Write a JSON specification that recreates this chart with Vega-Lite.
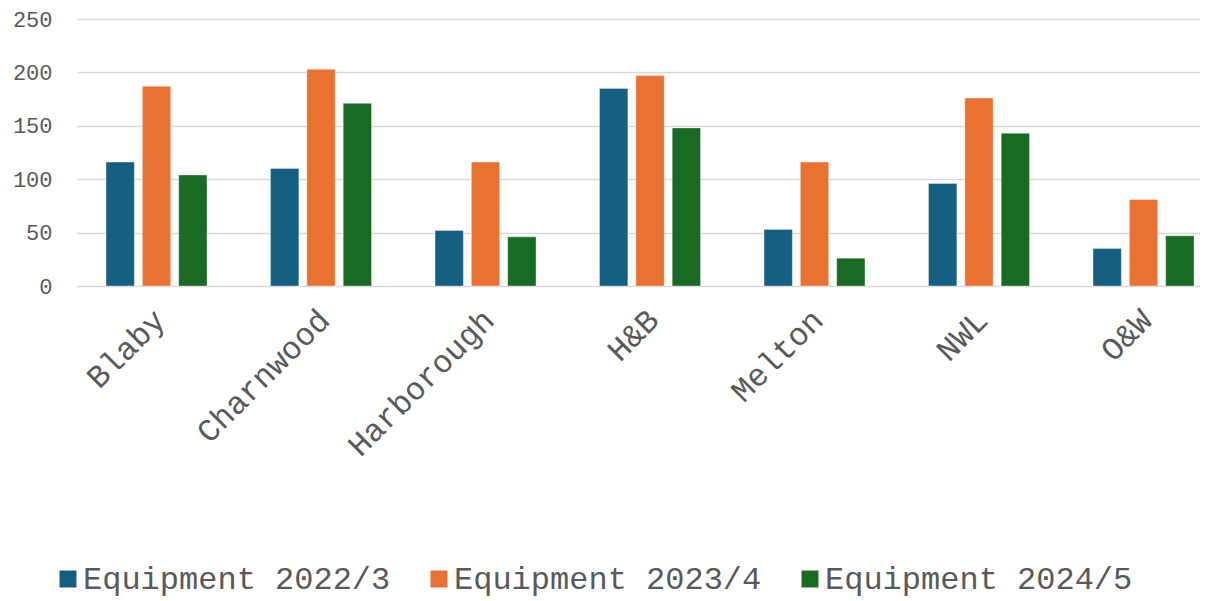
{
  "$schema": "https://vega.github.io/schema/vega-lite/v6.json",
  "autosize": {"type": "none"},
  "padding": {"left": 77, "top": 19, "right": 9, "bottom": 315},
  "width": 1123,
  "height": 267,
  "background": "white",
  "data": {
    "values": [
      {"area": "Blaby", "series": "Equipment 2022/3", "value": 116},
      {"area": "Blaby", "series": "Equipment 2023/4", "value": 187},
      {"area": "Blaby", "series": "Equipment 2024/5", "value": 104},
      {"area": "Charnwood", "series": "Equipment 2022/3", "value": 110},
      {"area": "Charnwood", "series": "Equipment 2023/4", "value": 203},
      {"area": "Charnwood", "series": "Equipment 2024/5", "value": 171},
      {"area": "Harborough", "series": "Equipment 2022/3", "value": 52},
      {"area": "Harborough", "series": "Equipment 2023/4", "value": 116},
      {"area": "Harborough", "series": "Equipment 2024/5", "value": 46},
      {"area": "H&B", "series": "Equipment 2022/3", "value": 185},
      {"area": "H&B", "series": "Equipment 2023/4", "value": 197},
      {"area": "H&B", "series": "Equipment 2024/5", "value": 148},
      {"area": "Melton", "series": "Equipment 2022/3", "value": 53},
      {"area": "Melton", "series": "Equipment 2023/4", "value": 116},
      {"area": "Melton", "series": "Equipment 2024/5", "value": 26},
      {"area": "NWL", "series": "Equipment 2022/3", "value": 96},
      {"area": "NWL", "series": "Equipment 2023/4", "value": 176},
      {"area": "NWL", "series": "Equipment 2024/5", "value": 143},
      {"area": "O&W", "series": "Equipment 2022/3", "value": 35},
      {"area": "O&W", "series": "Equipment 2023/4", "value": 81},
      {"area": "O&W", "series": "Equipment 2024/5", "value": 47}
    ]
  },
  "mark": {"type": "bar", "stroke": "white", "strokeWidth": 0.6, "strokeOpacity": 0.6},
  "encoding": {
    "x": {
      "field": "area", "type": "nominal", "sort": null,
      "scale": {"paddingInner": 0.386, "paddingOuter": 0.1064, "align": 0.829},
      "axis": {
        "title": null, "domain": false, "ticks": false,
        "labelAngle": -45, "labelFont": "Liberation Mono", "labelFontSize": 32,
        "labelColor": "#595959", "labelPadding": 18, "labelOffset": -7, "labelLimit": 0
      }
    },
    "xOffset": {
      "field": "series", "type": "nominal",
      "scale": {"paddingInner": 0.22, "paddingOuter": 0}
    },
    "y": {
      "field": "value", "type": "quantitative",
      "scale": {"domain": [0, 250]},
      "axis": {
        "title": null, "domain": false, "ticks": false, "values": [0, 50, 100, 150, 200, 250],
        "labelFont": "Liberation Mono", "labelFontSize": 22, "labelColor": "#595959",
        "labelPadding": 25, "gridColor": "#d9d9d9", "gridWidth": 1.6
      }
    },
    "color": {
      "field": "series", "type": "nominal",
      "scale": {"range": ["#156082", "#E97132", "#196B24"]},
      "legend": {
        "title": null, "orient": "none", "direction": "horizontal",
        "legendX": -25, "legendY": 544,
        "symbolType": "square", "symbolSize": 289, "symbolStrokeWidth": 0,
        "labelFont": "Liberation Mono", "labelFontSize": 32, "labelColor": "#595959",
        "labelOffset": -1, "columnPadding": 32, "padding": 0, "labelLimit": 0
      }
    }
  },
  "config": {"view": {"stroke": null}}
}
